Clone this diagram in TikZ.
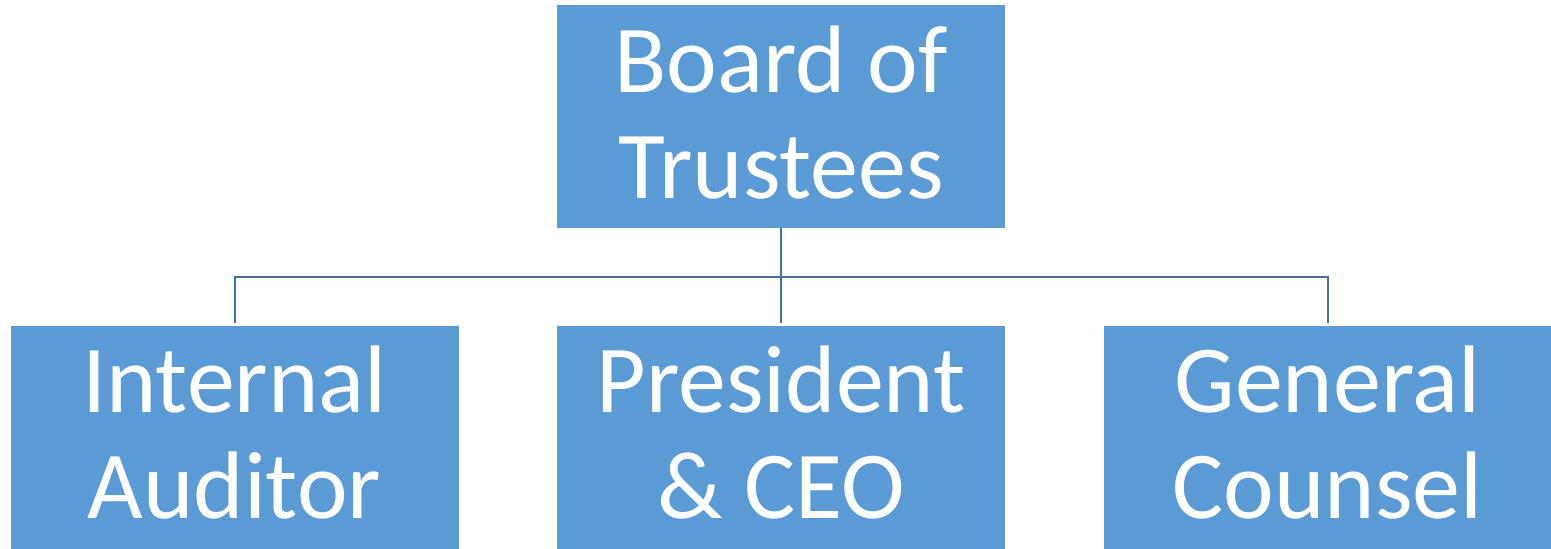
\documentclass[tikz,border=0pt]{standalone}
\usepackage{fontspec}
\setmainfont{Carlito}
\usepackage{xcolor}
\usepackage{tikz}
\usetikzlibrary{positioning,calc}
\definecolor{boxblue}{RGB}{91,155,213}
\definecolor{linkblue}{RGB}{65,113,156}
\tikzset{
  unit/.style={rectangle, draw=none, fill=boxblue, inner sep=0pt, minimum width=448pt, minimum height=223pt, text=white, align=center, text depth=9pt, font=\fontsize{96}{106}\selectfont},
  link/.style={draw=linkblue, line width=2pt}
}

\begin{document}
\begin{tikzpicture}[x=1pt, y=-1pt]
  \useasboundingbox (0,0) rectangle (1551,549);

  % Top level
  \node[unit] (BT) at (781,116.5) {Board of\\Trustees};

  % Second level
  \node[unit] (IA) at (234.5,437) {Internal\\Auditor};
  \node[unit] (PC) at (781,437)   {President\\\& CEO};
  \node[unit] (GC) at (1327.5,437) {General\\Counsel};

  % Connectors
  \coordinate (bus) at (781,276.5);
  \draw[link] (BT.south) -- ([yshift=2.5pt]PC.north);
  \draw[link] ([yshift=2.5pt]IA.north) |- (bus) -| ([yshift=2.5pt]GC.north);

\end{tikzpicture}
\end{document}
